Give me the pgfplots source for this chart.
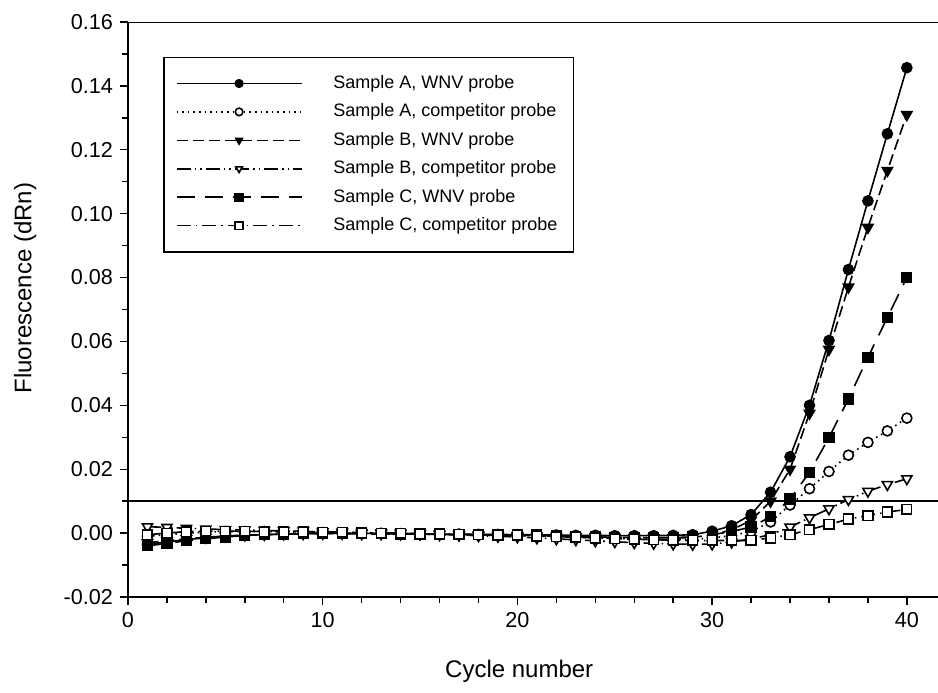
\documentclass[border=0pt]{standalone}
\usepackage{fontspec}
\setmainfont{Liberation Sans}
\usepackage{pgfplots}
\usepackage{pgfplotstable}
\pgfplotsset{compat=1.18}

% cycle, A WNV, A competitor, B WNV, B competitor, C WNV, C competitor
\pgfplotstableread{
cyc aw ac bw bc cw cc
1 -0.0035 -0.0010 -0.0030 0.0020 -0.0040 -0.0005
2 -0.0028 -0.0005 -0.0024 0.0018 -0.0032 0.0000
3 -0.0020 0.0000 -0.0018 0.0015 -0.0024 0.0005
4 -0.0015 0.0003 -0.0013 0.0013 -0.0018 0.0006
5 -0.0010 0.0005 -0.0009 0.0011 -0.0012 0.0006
6 -0.0007 0.0005 -0.0006 0.0010 -0.0008 0.0006
7 -0.0005 0.0005 -0.0004 0.0008 -0.0005 0.0005
8 -0.0003 0.0004 -0.0003 0.0007 -0.0003 0.0005
9 -0.0002 0.0003 -0.0002 0.0006 -0.0002 0.0004
10 -0.0001 0.0002 -0.0001 0.0004 -0.0001 0.0003
11 -0.0001 0.0001 -0.0001 0.0003 -0.0002 0.0002
12 -0.0001 0.0000 -0.0002 0.0002 -0.0002 0.0001
13 -0.0001 -0.0001 -0.0002 0.0001 -0.0002 0.0000
14 -0.0002 -0.0002 -0.0003 0.0000 -0.0003 -0.0001
15 -0.0002 -0.0003 -0.0003 -0.0002 -0.0003 -0.0002
16 -0.0003 -0.0004 -0.0004 -0.0004 -0.0004 -0.0003
17 -0.0003 -0.0005 -0.0005 -0.0006 -0.0004 -0.0004
18 -0.0004 -0.0006 -0.0006 -0.0008 -0.0005 -0.0005
19 -0.0004 -0.0007 -0.0007 -0.0010 -0.0005 -0.0006
20 -0.0005 -0.0007 -0.0008 -0.0012 -0.0006 -0.0007
21 -0.0005 -0.0008 -0.0009 -0.0015 -0.0006 -0.0009
22 -0.0006 -0.0010 -0.0010 -0.0018 -0.0008 -0.0011
23 -0.0007 -0.0012 -0.0011 -0.0021 -0.0010 -0.0013
24 -0.0007 -0.0014 -0.0012 -0.0024 -0.0012 -0.0015
25 -0.0008 -0.0016 -0.0013 -0.0027 -0.0013 -0.0017
26 -0.0008 -0.0018 -0.0014 -0.0030 -0.0014 -0.0019
27 -0.0008 -0.0019 -0.0015 -0.0032 -0.0014 -0.0021
28 -0.0007 -0.0020 -0.0015 -0.0034 -0.0014 -0.0022
29 -0.0005 -0.0020 -0.0014 -0.0035 -0.0012 -0.0023
30 0.0006 -0.0015 -0.0005 -0.0034 -0.0005 -0.0023
31 0.0023 -0.0008 0.0010 -0.0028 0.0005 -0.0023
32 0.0058 0.0005 0.0040 -0.0018 0.0019 -0.0023
33 0.0128 0.0035 0.0100 -0.0005 0.0051 -0.0015
34 0.0239 0.0088 0.0200 0.0019 0.0107 -0.0005
35 0.0400 0.0139 0.0375 0.0048 0.0190 0.0011
36 0.0603 0.0193 0.0575 0.0076 0.0299 0.0027
37 0.0825 0.0244 0.0770 0.0105 0.0420 0.0044
38 0.1040 0.0284 0.0957 0.0131 0.0550 0.0055
39 0.1250 0.0320 0.1135 0.0152 0.0675 0.0066
40 0.1457 0.0360 0.1310 0.0170 0.0800 0.0074
}\qpcr

\begin{document}
\begin{tikzpicture}
\useasboundingbox (-64pt,-47.5pt) rectangle (405pt,298.5pt);
\begin{axis}[
  scale only axis,
  width=405pt, height=287.5pt,
  xmin=0, xmax=41.6,
  ymin=-0.02, ymax=0.16,
  axis x line*=bottom, axis y line*=left,
  axis line style={line width=0.8pt},
  xtick={0,10,20,30,40}, minor x tick num=4,
  ytick={-0.02,0,0.02,0.04,0.06,0.08,0.10,0.12,0.14,0.16},
  minor y tick num=1,
  tick align=outside,
  major tick length=4pt, minor tick length=3pt,
  tick style={black, line width=0.7pt},
  ticklabel style={font=\fontsize{10.8}{12}\selectfont},
  /pgf/number format/assume math mode=true,
  yticklabel style={/pgf/number format/.cd, fixed, fixed zerofill, precision=2},
  xlabel={Cycle number},
  ylabel={Fluorescence (dRn)},
  label style={font=\fontsize{12}{14}\selectfont},
  xlabel style={at={(axis description cs:0.483,-0.130)}, anchor=center},
  ylabel style={at={(axis description cs:-0.127,0.537)}, anchor=center},
  every axis plot/.append style={black, line width=0.8pt},
  mark size=2.5pt,
  legend cell align=left,
  legend style={at={(rel axis cs:0.0432,0.94)}, anchor=north west,
    draw=black, line width=0.8pt,
    font=\fontsize{9}{11}\selectfont,
    inner xsep=6pt, inner ysep=6pt, row sep=0pt,
    nodes={text height=7.5pt, text depth=2.5pt, inner ysep=2.1pt},
    /tikz/every odd column/.append style={column sep=13.5pt}},
  legend image code/.code={
    \draw[mark repeat=2, mark phase=2, #1, mark size=1.9pt]
      plot coordinates {(0pt,0pt) (31.25pt,0pt) (62.5pt,0pt)};},
]
\addplot[mark=*, mark options={solid, fill=black}] table[x=cyc, y=aw] {\qpcr};
\addlegendentry{Sample A, WNV probe}
\addplot[dash pattern=on 0.8pt off 2pt, mark=*, mark options={solid, fill=white}] table[x=cyc, y=ac] {\qpcr};
\addlegendentry{Sample A, competitor probe}
\addplot[dash pattern=on 5.5pt off 2.5pt, mark=triangle*, mark size=2.9pt, mark options={solid, fill=black, rotate=180}] table[x=cyc, y=bw] {\qpcr};
\addlegendentry{Sample B, WNV probe}
\addplot[dash pattern=on 7pt off 2pt on 0.8pt off 2pt on 0.8pt off 2pt, mark=triangle*, mark size=2.9pt, mark options={solid, fill=white, rotate=180}] table[x=cyc, y=bc] {\qpcr};
\addlegendentry{Sample B, competitor probe}
\addplot[dash pattern=on 9pt off 5pt, mark=square*, mark size=2.4pt, mark options={solid, fill=black}] table[x=cyc, y=cw] {\qpcr};
\addlegendentry{Sample C, WNV probe}
\addplot[dash pattern=on 7pt off 2.5pt on 0.8pt off 2.5pt, mark=square*, mark size=2.4pt, mark options={solid, fill=white}] table[x=cyc, y=cc] {\qpcr};
\addlegendentry{Sample C, competitor probe}
% threshold line
\addplot[black, line width=0.8pt, forget plot] coordinates {(0,0.01) (41.6,0.01)};
\draw[line width=0.8pt] (rel axis cs:0,1) -- (rel axis cs:1,1);
\end{axis}
\end{tikzpicture}
\end{document}
